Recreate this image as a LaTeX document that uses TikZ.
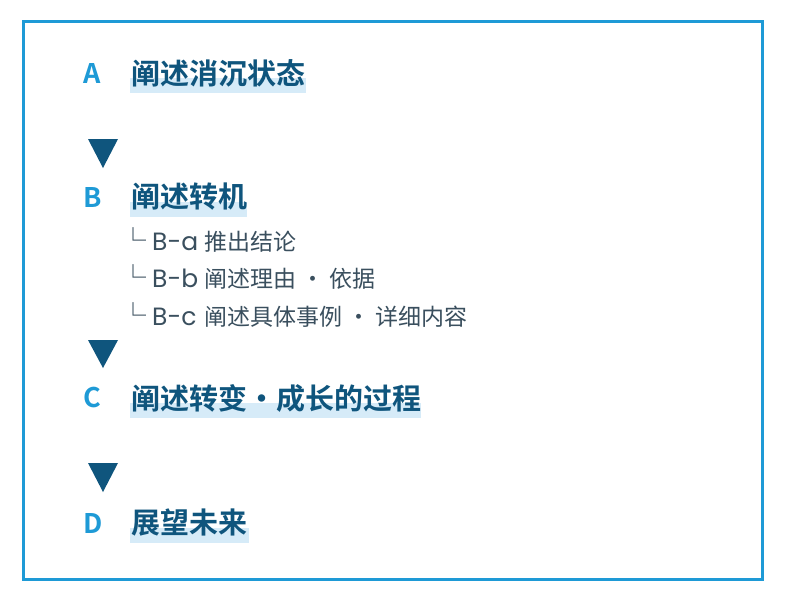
\documentclass[tikz,border=0pt]{standalone}
\usepackage{fontspec}
\setmainfont{Noto Sans CJK SC}
\newfontfamily\cjkbold{Noto Sans CJK SC Bold}
\newfontfamily\cjkreg{Noto Sans CJK SC}
\newfontfamily\latinf{Poppins}
\definecolor{frameblue}{HTML}{1E9AD6}
\definecolor{headblue}{HTML}{0F557D}
\definecolor{hilite}{HTML}{D6EBF8}
\definecolor{subgray}{HTML}{3A4F5E}
\newcommand{\corner}{\makebox[32pt][l]{\fontsize{26}{26}\selectfont └}}
\newcommand{\lab}[1]{\makebox[52pt][l]{{\latinf\fontsize{25}{25}\selectfont #1}}}
\begin{document}
\begin{tikzpicture}[x=1pt,y=-1pt,
  letter/.style={anchor=west,inner sep=0pt,text=frameblue,font=\cjkbold\fontsize{27}{27}\selectfont},
  head/.style={anchor=west,inner sep=0pt,text=headblue,font=\cjkbold\fontsize{29}{29}\selectfont},
  sub/.style={anchor=west,inner sep=0pt,text=subgray,font=\cjkreg\fontsize{23}{23}\selectfont},
  tri/.style={fill=headblue,draw=none}]
\useasboundingbox (0,0) rectangle (786,600);
\fill[white] (0,0) rectangle (786,600);
\draw[frameblue,line width=3pt] (23.5,21.5) rectangle (762,579);
% highlight bands
\fill[hilite] (130,78) rectangle (306,93);
\fill[hilite] (130,202) rectangle (247,217);
\fill[hilite] (130,403) rectangle (421,418);
\fill[hilite] (130,528) rectangle (249,543);
% letters
\node[letter] (la) at (83,73) {A};
\node[letter] (lb) at (83,197) {B};
\node[letter] (lc) at (83,398) {C};
\node[letter] (ld) at (83,523) {D};
% headings
\node[head] (ha) at (131,73) {阐述消沉状态};
\node[head] (hb) at (131,197) {阐述转机};
\node[head] (hc) at (131,398) {阐述转变・成长的过程};
\node[head] (hd) at (131,523) {展望未来};
% sub items
\node[sub] (sa) at (120,240) {\corner\lab{B-a}推出结论};
\node[sub] (sb) at (120,277) {\corner\lab{B-b}阐述理由 · 依据};
\node[sub] (sc) at (120,315) {\corner\lab{B-c}阐述具体事例 · 详细内容};
% triangles
\fill[tri] (88,139) -- (118,139) -- (103,168) -- cycle;
\fill[tri] (88,340) -- (118,340) -- (103,368) -- cycle;
\fill[tri] (88,463) -- (118,463) -- (103,492) -- cycle;
\end{tikzpicture}
\end{document}
